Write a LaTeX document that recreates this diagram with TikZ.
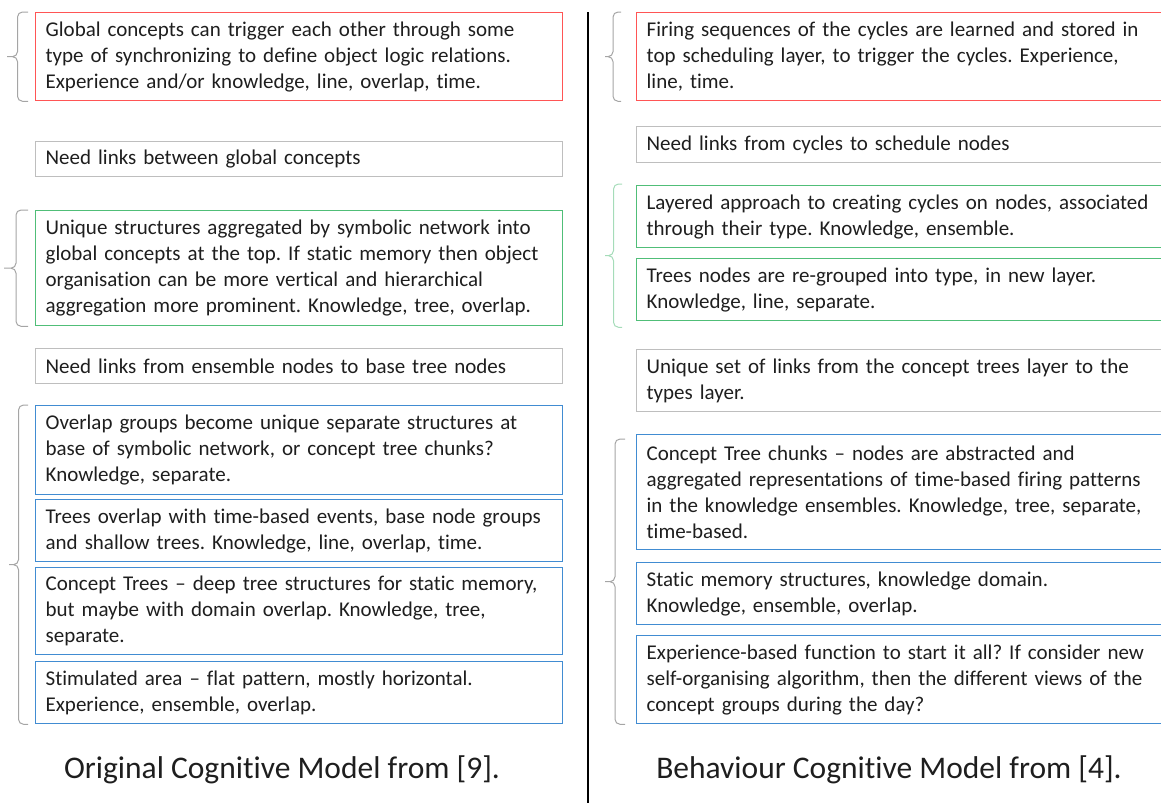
\documentclass[tikz,border=0pt]{standalone}
\usepackage{fontspec}
\setmainfont{Carlito}[Ligatures=NoCommon]
\usetikzlibrary{calc}
\frenchspacing

\definecolor{boxred}{RGB}{255,85,85}
\definecolor{boxgreen}{RGB}{80,190,120}
\definecolor{boxblue}{RGB}{65,140,210}
\definecolor{boxgray}{RGB}{190,190,190}
\definecolor{bracegray}{RGB}{165,165,165}
\definecolor{bracegreen}{RGB}{165,220,185}
\definecolor{ink}{RGB}{30,30,30}

\tikzset{
  note/.style={draw=boxgray, line width=1.3pt, anchor=north west, align=left,
    inner xsep=10pt, inner ysep=3pt, text=ink, font=\fontsize{21}{26}\selectfont},
  lnote/.style={note, text width=507pt},
  rnote/.style={note, text width=520pt},
  rednote/.style={draw=boxred},
  greennote/.style={draw=boxgreen},
  bluenote/.style={draw=boxblue},
  % brace from the lower end (start) to the upper end (target)
  grp/.style={line width=1pt, draw=bracegray, rounded corners=5pt,
    to path={let \p1=(\tikztostart), \p2=(\tikztotarget),
      \p3=($(\tikztostart)!.5!(\tikztotarget)$) in
      (\x1-#1,\y3) -- (\x1-#1/2,\y3) -- (\x1-#1/2,\y1) -- (\x1,\y1)
      (\x1-#1,\y3) -- (\x1-#1/2,\y3) -- (\x1-#1/2,\y2) -- (\x2,\y2)}},
  grp/.default=20pt,
  caption/.style={text=ink, font=\fontsize{31.5}{36}\selectfont}
}

\begin{document}
\begin{tikzpicture}[x=1pt, y=-1pt]
  \useasboundingbox (0,0) rectangle (1161,803);

  % original model (left)
  \node[lnote, rednote, minimum height=88pt] (lglobal) at (35,12)
    {Global concepts can trigger each other through some\\
     type of synchronizing to define object logic relations.\\
     Experience and/or knowledge, line, overlap, time.};
  \node[lnote, minimum height=35pt] (llinkA) at (35,141)
    {Need links between global concepts};
  \node[lnote, greennote, minimum height=115pt] (lunique) at (35,210)
    {Unique structures aggregated by symbolic network into\\
     global concepts at the top. If static memory then object\\
     organisation can be more vertical and hierarchical\\
     aggregation more prominent. Knowledge, tree, overlap.};
  \node[lnote, minimum height=35pt] (llinkB) at (35,348)
    {Need links from ensemble nodes to base tree nodes};
  \node[lnote, bluenote, minimum height=89pt] (loverlap) at (35,405)
    {Overlap groups become unique separate structures at\\
     base of symbolic network, or concept tree chunks?\\
     Knowledge, separate.};
  \node[lnote, bluenote, minimum height=62pt] (ltrees) at (35,499)
    {Trees overlap with time-based events, base node groups\\
     and shallow trees. Knowledge, line, overlap, time.};
  \node[lnote, bluenote, minimum height=87pt] (lconcept) at (35,567)
    {Concept Trees -- deep tree structures for static memory,\\
     but maybe with domain overlap. Knowledge, tree,\\
     separate.};
  \node[lnote, bluenote, minimum height=62pt] (lstim) at (35,661)
    {Stimulated area -- flat pattern, mostly horizontal.\\
     Experience, ensemble, overlap.};

  \coordinate (lb1) at ([xshift=-7pt]lglobal.south west);
  \coordinate (lt1) at ([xshift=-7pt]lglobal.north west);
  \coordinate (lb2) at ([xshift=-7pt]lunique.south west);
  \coordinate (lt2) at ([xshift=-7pt]lunique.north west);
  \coordinate (lb3) at ([xshift=-7pt]lstim.south west);
  \coordinate (lt3) at ([xshift=-7pt]loverlap.north west);
  \draw[grp=21pt] (lb1) to (lt1);
  \draw[grp=24pt] (lb2) to (lt2);
  \draw[grp=19pt] (lb3) to (lt3);

  % divider
  \coordinate (dtop) at (588,12);
  \coordinate (dbot) at (588,803);
  \draw[line width=2pt] (dtop) -- (dbot);

  % behaviour model (right)
  \node[rnote, rednote, minimum height=88pt] (rfiring) at (636,12)
    {Firing sequences of the cycles are learned and stored in\\
     top scheduling layer, to trigger the cycles. Experience,\\
     line, time.};
  \node[rnote, minimum height=36pt] (rlinkA) at (636,126)
    {Need links from cycles to schedule nodes};
  \node[rnote, greennote, minimum height=62pt] (rlayer) at (636,185)
    {Layered approach to creating cycles on nodes, associated\\
     through their type. Knowledge, ensemble.};
  \node[rnote, greennote, minimum height=62pt] (rregroup) at (636,258)
    {Trees nodes are re-grouped into type, in new layer.\\
     Knowledge, line, separate.};
  \node[rnote, minimum height=62pt] (rlinkB) at (636,349)
    {Unique set of links from the concept trees layer to the\\
     types layer.};
  \node[rnote, bluenote, minimum height=115pt] (rchunks) at (636,434)
    {Concept Tree chunks -- nodes are abstracted and\\
     aggregated representations of time-based firing patterns\\
     in the knowledge ensembles. Knowledge, tree, separate,\\
     time-based.};
  \node[rnote, bluenote, minimum height=62pt] (rstatic) at (636,562)
    {Static memory structures, knowledge domain.\\
     Knowledge, ensemble, overlap.};
  \node[rnote, bluenote, minimum height=88pt] (rexp) at (636,635)
    {Experience-based function to start it all? If consider new\\
     self-organising algorithm, then the different views of the\\
     concept groups during the day?};

  \coordinate (rb1) at ([xshift=-15pt]rfiring.south west);
  \coordinate (rt1) at ([xshift=-15pt]rfiring.north west);
  \coordinate (rb2) at ([xshift=-14pt,yshift=-6pt]rregroup.south west);
  \coordinate (rt2) at ([xshift=-14pt,yshift=1pt]rlayer.north west);
  \coordinate (rb3) at ([xshift=-11pt]rexp.south west);
  \coordinate (rt3) at ([xshift=-11pt,yshift=-5pt]rchunks.north west);
  \draw[grp=16pt] (rb1) to (rt1);
  \draw[grp=17pt, draw=bracegreen] (rb2) to (rt2);
  \draw[grp=20pt] (rb3) to (rt3);

  % captions
  \node[caption] (lcap) at (282,770) {Original Cognitive Model from [9].};
  \node[caption] (rcap) at (889,770) {Behaviour Cognitive Model from [4].};
\end{tikzpicture}
\end{document}
